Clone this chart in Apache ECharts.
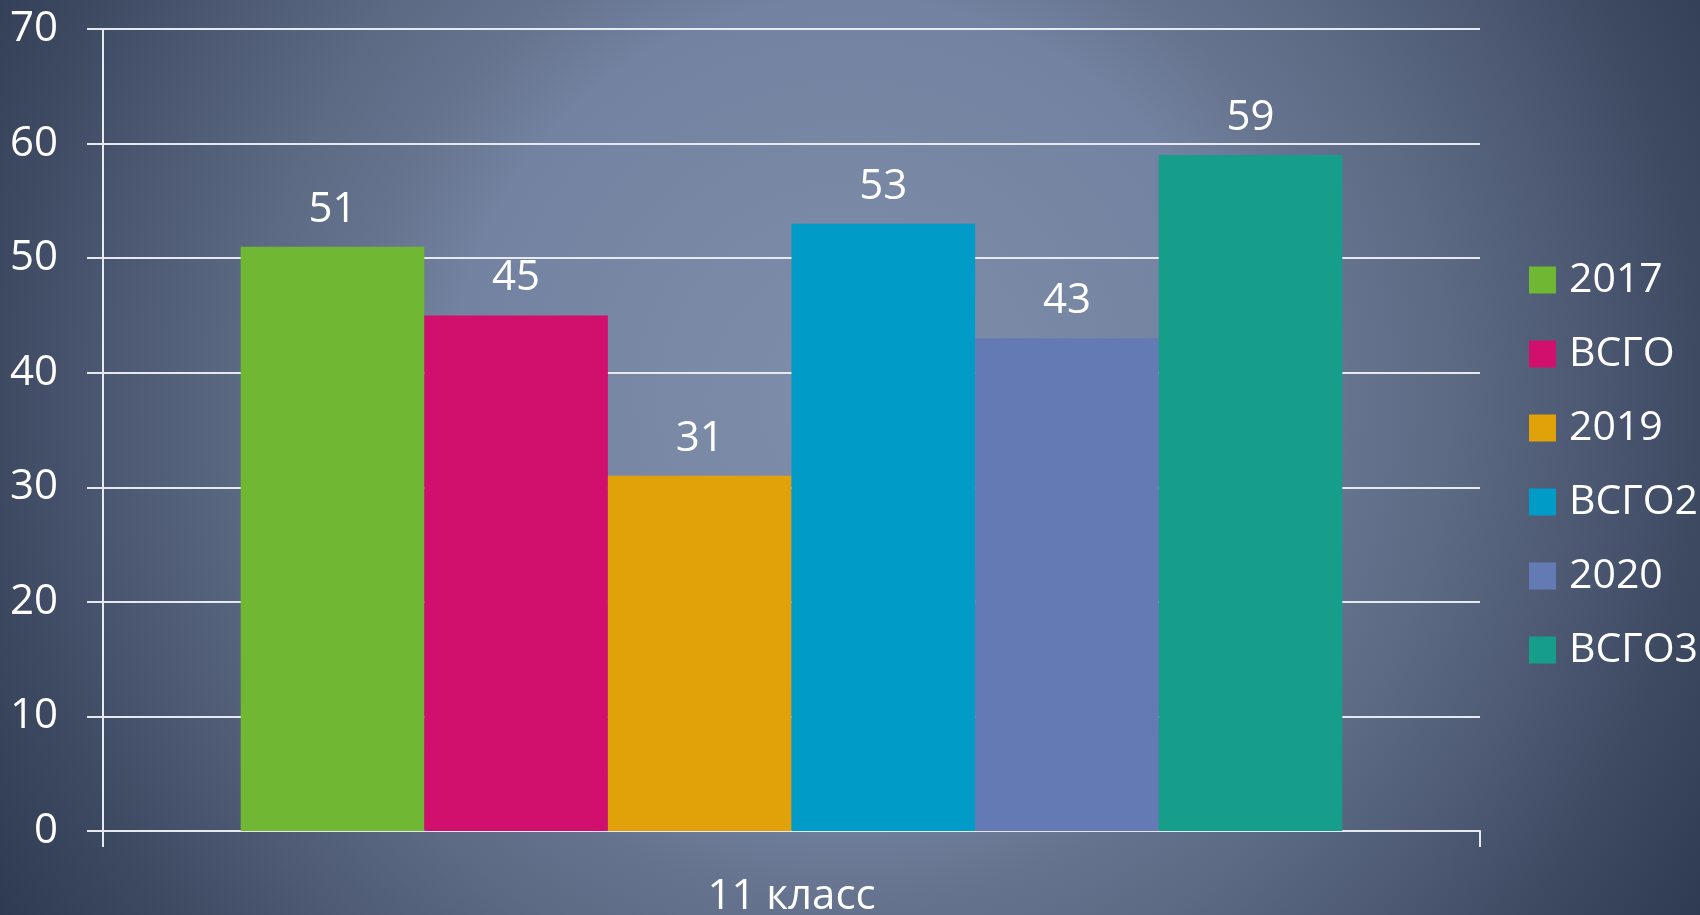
<!DOCTYPE html>
<html>
<head>
<meta charset="utf-8">
<script src="https://cdn.jsdelivr.net/npm/echarts@6/dist/echarts.min.js"></script>
<style>
  html, body { margin: 0; padding: 0; }
  #main { width: 1700px; height: 915px; }
</style>
</head>
<body>
<div id="main"></div>
<script>
var chartDom = document.getElementById('main');
var myChart = echarts.init(chartDom);

const categories = ['11 класс'];
const seriesNames = ['2017', 'ВСГО', '2019', 'ВСГО2', '2020', 'ВСГО3'];
const seriesValues = [51, 45, 31, 53, 43, 59];
const seriesColors = ['#70b833', '#d0106c', '#e0a208', '#009bc6', '#647ab4', '#169e8a'];

const FONT = '"Open Sans", sans-serif';
const textColor = '#ffffff';
const lineColor = '#e6e9ef';

function getSeries()
{
  return seriesNames.map((name, i) => {
    return {
      name: name,
      type: 'bar',
      data: [seriesValues[i]],
      barGap: '0%',
      barCategoryGap: '20%',
      itemStyle: { color: seriesColors[i] },
      label: {
        show: true,
        position: 'top',
        distance: 16,
        color: textColor,
        fontFamily: FONT,
        fontSize: 42
      }
    };
  });
}

var option = {
  backgroundColor: {
    type: 'radial',
    x: 0.5,
    y: 0.437,
    r: 1.093,
    colorStops: [
      { offset: 0, color: '#7e8eaa' },
      { offset: 0.4, color: '#7282a0' },
      { offset: 0.5, color: '#66738e' },
      { offset: 0.6, color: '#5c6a84' },
      { offset: 0.73, color: '#4e5a74' },
      { offset: 0.85, color: '#3e4a62' },
      { offset: 1, color: '#2e3a52' }
    ]
  },
  legend: {
    orient: 'vertical',
    left: 1524,
    top: 253,
    itemWidth: 27,
    itemHeight: 27,
    itemGap: 30,
    itemStyle: { borderWidth: 0 },
    icon: 'rect',
    textStyle: {
      color: textColor,
      fontFamily: FONT,
      fontSize: 41,
      lineHeight: 44,
      padding: [0, 0, 0, 8]
    },
    data: seriesNames
  },
  grid: {
    left: 103,
    right: 220,
    top: 29,
    bottom: 84,
    containLabel: false,
    outerBoundsMode: 'none'
  },
  xAxis: {
    type: 'category',
    data: categories,
    axisLine: { lineStyle: { color: lineColor, width: 2 } },
    axisTick: { show: true, length: 16, lineStyle: { color: lineColor, width: 2 } },
    axisLabel: {
      color: textColor,
      fontFamily: FONT,
      fontSize: 42,
      margin: 45
    }
  },
  yAxis: {
    type: 'value',
    min: 0,
    max: 70,
    interval: 10,
    axisLine: { show: true, lineStyle: { color: lineColor, width: 2 } },
    axisTick: { show: true, length: 16, lineStyle: { color: lineColor, width: 2 } },
    splitLine: { show: true, lineStyle: { color: lineColor, width: 2 } },
    axisLabel: {
      color: textColor,
      fontFamily: FONT,
      fontSize: 42,
      margin: 45
    }
  },
  series: getSeries()
};

option && myChart.setOption(option);
</script>
</body>
</html>
